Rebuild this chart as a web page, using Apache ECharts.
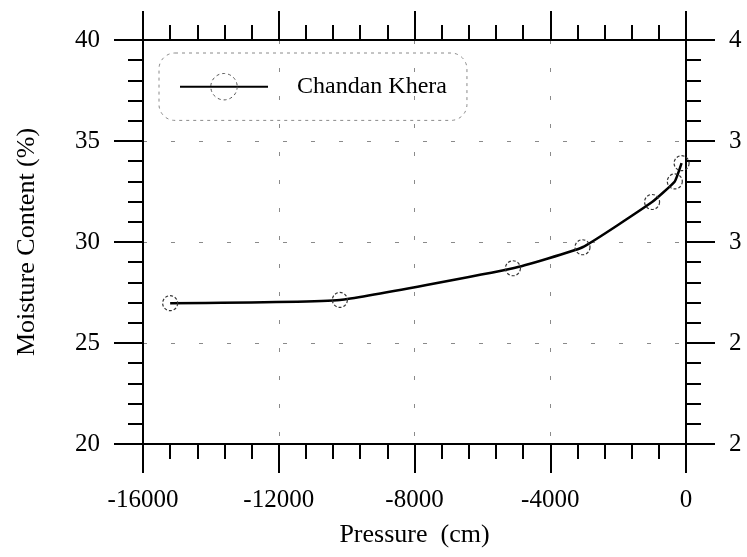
<!DOCTYPE html>
<html>
<head>
<meta charset="utf-8">
<script src="https://cdn.jsdelivr.net/npm/echarts@6/dist/echarts.min.js"></script>
<style>
  html, body { margin: 0; padding: 0; background: #fff; }
  #chart { width: 747px; height: 557px; }
</style>
</head>
<body>
<div id="chart"></div>
<script>
// ---- data ----
const seriesName = 'Chandan Khera';
const pressure = [-15200, -10200, -5100, -3050, -1000, -330, -130];
const moisture = [26.97, 27.13, 28.70, 29.74, 31.98, 33.0, 33.9];
const xTickValues = [-16000, -12000, -8000, -4000, 0];
const xTickLabels = ['-16000', '-12000', '-8000', '-4000', '0'];
const yTickValues = [20, 25, 30, 35, 40];
const yTickLabels = ['20', '25', '30', '35', '40'];
const rightTickLabels = ['2', '2', '3', '3', '4'];
const xName = 'Pressure  (cm)';
const yName = 'Moisture Content (%)';

const FONT = "'Liberation Serif', 'Times New Roman', serif";
const pick = (vals, labels) => v => { const i = vals.indexOf(v); return i >= 0 ? labels[i] : ''; };

const axisLine = { show: true, onZero: false, lineStyle: { color: '#000', width: 2 } };
const tick = { show: true, inside: false, length: 29, lineStyle: { color: '#000', width: 2 } };
const minor = { show: true, splitNumber: 5, length: 15, lineStyle: { color: '#000', width: 2 } };
const gridLine = { show: true, lineStyle: { color: '#8a8a8a', width: 1, type: [4, 24] } };

const chart = echarts.init(document.getElementById('chart'), null, { renderer: 'canvas' });
chart.setOption({
  backgroundColor: '#fff',
  animation: false,
  textStyle: { fontFamily: FONT, color: '#000' },
  grid: { left: 143, right: 61, top: 40, bottom: 113, containLabel: false },
  legend: {
    show: true,
    left: 159, top: 53,
    orient: 'horizontal',
    padding: [20, 20, 20, 20],
    itemWidth: 88, itemHeight: 33,
    borderColor: '#8a8a8a', borderWidth: 1, borderType: [3, 4], borderRadius: 16,
    itemStyle: { borderType: [3, 3], borderColor: '#555', borderWidth: 1 },
    textStyle: { fontFamily: FONT, fontSize: 24, color: '#000', padding: [0, 0, 0, 24] },
    data: [seriesName]
  },
  xAxis: [
    {
      type: 'value', position: 'bottom', min: -16000, max: 0, interval: 4000,
      axisLine: axisLine, axisTick: tick, minorTick: minor,
      splitLine: gridLine, minorSplitLine: { show: false },
      axisLabel: { show: true, margin: 44, fontFamily: FONT, fontSize: 25, color: '#000',
        formatter: pick(xTickValues, xTickLabels) },
      name: xName, nameLocation: 'middle', nameGap: 78,
      nameTextStyle: { fontFamily: FONT, fontSize: 26, color: '#000' }
    },
    {
      type: 'value', position: 'top', min: -16000, max: 0, interval: 4000,
      axisLine: axisLine, axisTick: tick, minorTick: minor,
      splitLine: { show: false }, axisLabel: { show: false }
    }
  ],
  yAxis: [
    {
      type: 'value', position: 'left', min: 20, max: 40, interval: 5,
      axisLine: axisLine, axisTick: tick, minorTick: minor,
      splitLine: gridLine,
      axisLabel: { show: true, margin: 43, fontFamily: FONT, fontSize: 25, color: '#000',
        formatter: pick(yTickValues, yTickLabels) },
      name: yName, nameLocation: 'middle', nameGap: 103, nameRotate: 90,
      nameTextStyle: { fontFamily: FONT, fontSize: 26, color: '#000' }
    },
    {
      type: 'value', position: 'right', min: 20, max: 40, interval: 5,
      axisLine: axisLine, axisTick: tick, minorTick: minor,
      splitLine: { show: false },
      axisLabel: { show: true, margin: 43, fontFamily: FONT, fontSize: 25, color: '#000',
        formatter: pick(yTickValues, rightTickLabels) }
    }
  ],
  series: [
    {
      name: seriesName,
      type: 'line',
      xAxisIndex: 0, yAxisIndex: 0,
      data: pressure.map((p, i) => [p, moisture[i]]),
      smooth: 0.12,
      symbol: 'circle',
      symbolSize: 15,
      showAllSymbol: true,
      lineStyle: { color: '#000', width: 2.5 },
      itemStyle: { color: 'rgba(0,0,0,0)', borderColor: '#333', borderWidth: 1.2, borderType: [3, 2] },
      z: 3
    }
  ]
});
</script>
</body>
</html>
